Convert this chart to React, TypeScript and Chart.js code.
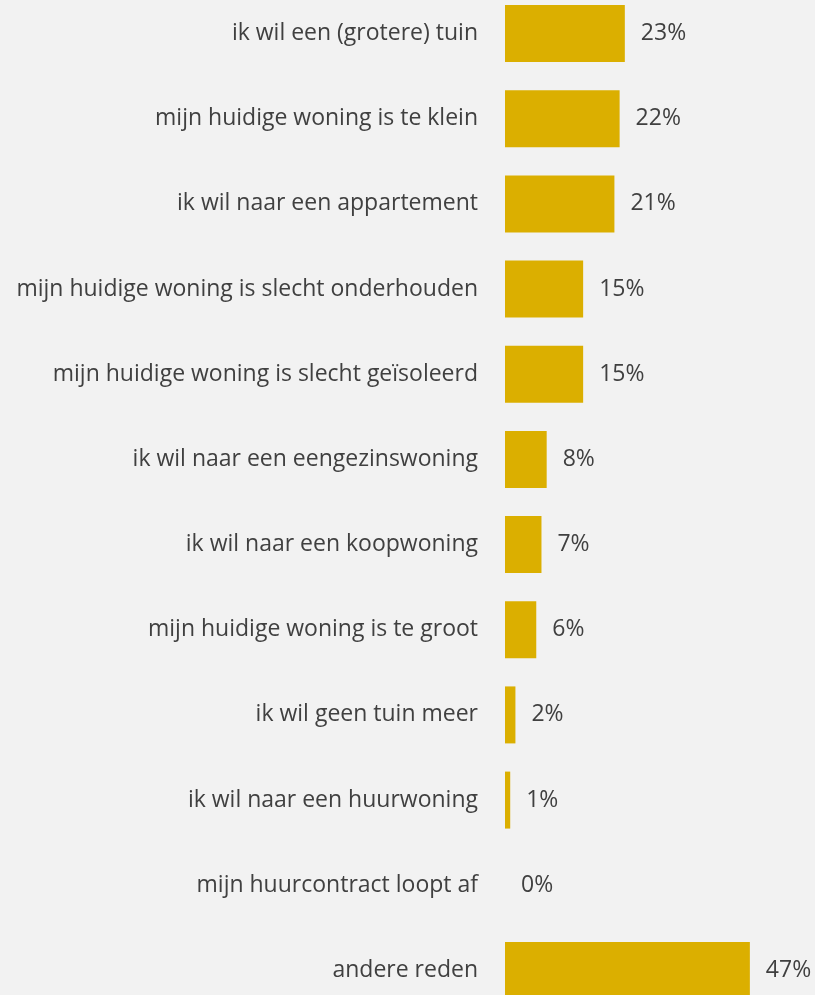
import React, { useEffect, useRef } from "react";
import { Chart, registerables } from "chart.js";

Chart.register(...registerables);

const categories = [
  "ik wil een (grotere) tuin",
  "mijn huidige woning is te klein",
  "ik wil naar een appartement",
  "mijn huidige woning is slecht onderhouden",
  "mijn huidige woning is slecht geïsoleerd",
  "ik wil naar een eengezinswoning",
  "ik wil naar een koopwoning",
  "mijn huidige woning is te groot",
  "ik wil geen tuin meer",
  "ik wil naar een huurwoning",
  "mijn huurcontract loopt af",
  "andere reden",
];
const values = [23, 22, 21, 15, 15, 8, 7, 6, 2, 1, 0, 47];
const valueLabels = ["23%", "22%", "21%", "15%", "15%", "8%", "7%", "6%", "2%", "1%", "0%", "47%"];

const FONT = "'Open Sans', sans-serif";
const TEXT = "#404040";

const labelPlugin = {
  id: "valueLabels",
  afterDatasetsDraw(chart: any) {
    const ctx = chart.ctx;
    const meta = chart.getDatasetMeta(0);
    ctx.save();
    ctx.font = `23px ${FONT}`;
    ctx.fillStyle = TEXT;
    ctx.textAlign = "left";
    ctx.textBaseline = "middle";
    meta.data.forEach((bar: any, i: number) => {
      ctx.fillText(valueLabels[i], bar.x + 16, bar.y);
    });
    ctx.restore();
  },
};

export default function App() {
  const ref = useRef<HTMLCanvasElement | null>(null);
  useEffect(() => {
    if (!ref.current) return;
    const chart = new Chart(ref.current, {
      type: "bar",
      data: {
        labels: categories,
        datasets: [
          {
            data: values,
            backgroundColor: "#dbaf00",
            borderWidth: 0,
            barPercentage: 0.669,
            categoryPercentage: 1,
          },
        ],
      },
      options: {
        indexAxis: "y",
        animation: false,
        responsive: true,
        maintainAspectRatio: false,
        layout: { padding: { left: 0, right: 0, top: 0, bottom: 0 } },
        plugins: { legend: { display: false }, tooltip: { enabled: false } },
        scales: {
          x: {
            display: false,
            min: 0,
            max: 59.5,
          },
          y: {
            grid: { display: false, drawTicks: false },
            border: { display: false },
            ticks: {
              color: TEXT,
              font: { family: FONT, size: 23 },
              padding: 27,
            },
            afterFit: (s: any) => {
              s.width = 505;
              s.paddingTop = 0;
              s.paddingBottom = 0;
            },
          },
        },
      },
      plugins: [labelPlugin],
    });
    return () => chart.destroy();
  }, []);
  return (
    <div
      style={{
        position: "absolute",
        left: 0,
        top: -9,
        width: 815,
        height: 1022,
        background: "#f2f2f2",
      }}
    >
      <canvas ref={ref} />
    </div>
  );
}
